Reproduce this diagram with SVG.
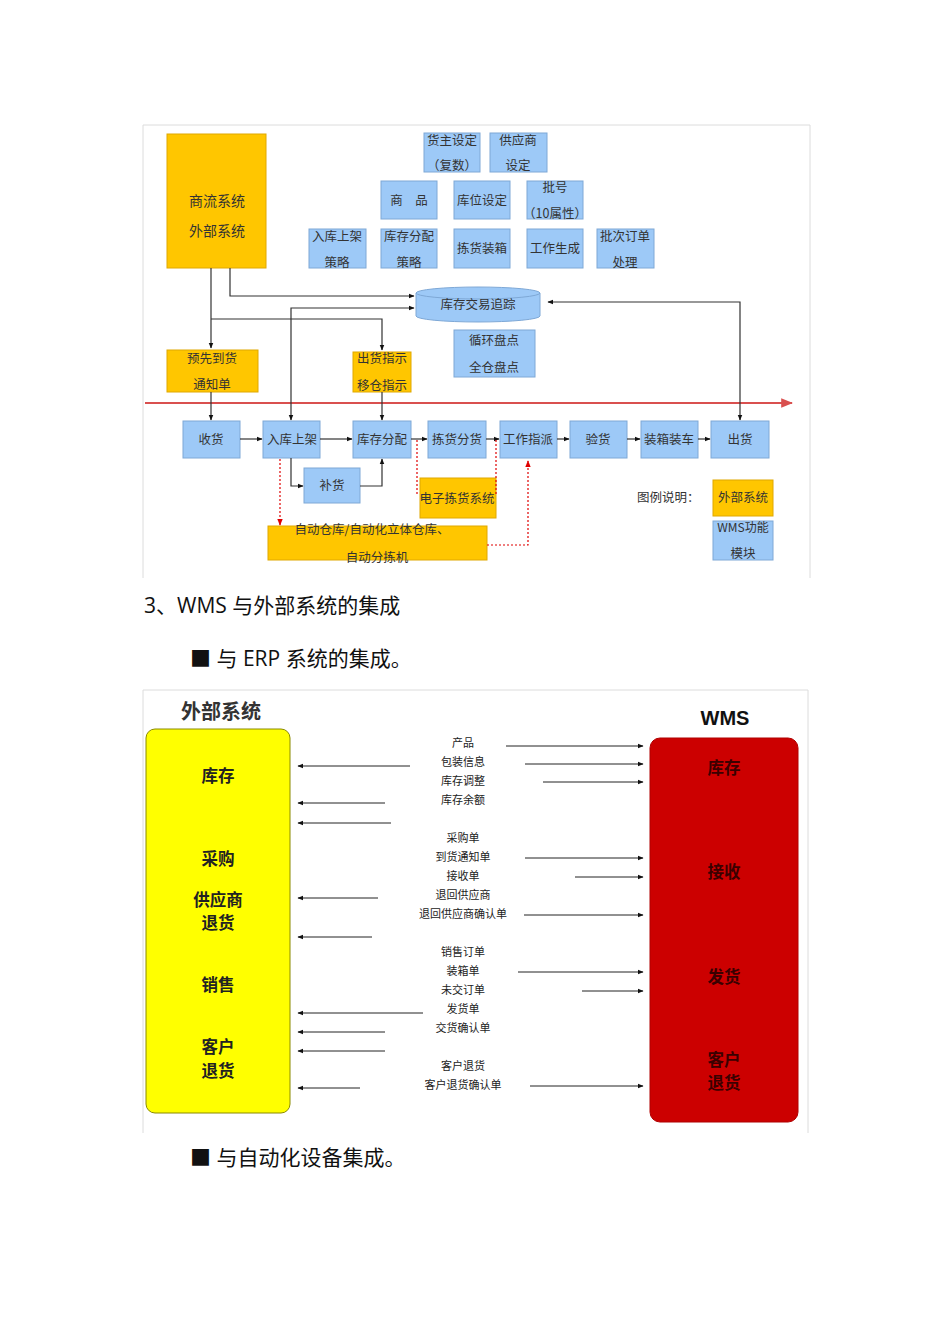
<svg xmlns="http://www.w3.org/2000/svg" width="950" height="1344" viewBox="0 0 950 1344">
<defs>
<marker id="a" viewBox="0 0 10 10" refX="9" refY="5" markerWidth="6" markerHeight="6" markerUnits="userSpaceOnUse" orient="auto-start-reverse"><path d="M0,1 L10,5 L0,9 z" fill="#111"/></marker>
<marker id="r" viewBox="0 0 10 10" refX="9" refY="5" markerWidth="7" markerHeight="7" markerUnits="userSpaceOnUse" orient="auto-start-reverse"><path d="M0,1 L10,5 L0,9 z" fill="#e00000"/></marker>
<marker id="big" viewBox="0 0 10 10" refX="9" refY="5" markerWidth="12" markerHeight="12" markerUnits="userSpaceOnUse" orient="auto"><path d="M0,1 L10,5 L0,9 z" fill="#d9504f"/></marker>
</defs>
<style>
text{font-family:"Noto Sans CJK SC","DejaVu Sans",sans-serif;fill:#333;}
.t{font-size:12.5px;text-anchor:middle;}
.b{fill:#9dc9f7;stroke:#7ea8d6;stroke-width:1;}
.y{fill:#ffc600;stroke:#e0a800;stroke-width:1;}
.ln{fill:none;stroke:#333;stroke-width:1.2;}
.rd{fill:none;stroke:#e00000;stroke-width:1.2;stroke-dasharray:2,2;}
.m{font-size:11px;text-anchor:middle;fill:#222;}
.arr{stroke:#222;stroke-width:1;fill:none;}
.k{font-family:"Noto Sans CJK SC",serif;font-weight:bold;font-size:16.5px;text-anchor:middle;fill:#222;}
.w{font-family:"Noto Sans CJK SC",serif;font-weight:bold;font-size:16.5px;text-anchor:middle;fill:#3a0000;}
.h{font-family:"Open Sans","Noto Sans CJK SC",sans-serif;font-size:21px;fill:#111;}
</style>
<rect width="950" height="1344" fill="#fff"/>

<!-- top frame -->
<path d="M143,578 V125 H810 V578" fill="none" stroke="#dcdcdc" stroke-width="1"/>

<g id="ext-main"><rect x="167" y="134" width="99" height="134" class="y"/><text class="t" x="217" y="206" style="font-size:14px">商流系统</text><text class="t" x="217" y="236" style="font-size:14px">外部系统</text></g>

<g id="n-huozhu"><rect x="424" y="133" width="56" height="39" class="b"/><text class="t" x="452" y="145">货主设定</text><text class="t" x="452" y="170">（复数）</text></g>
<g id="n-gys"><rect x="490" y="133" width="57" height="39" class="b"/><text class="t" x="518" y="145">供应商</text><text class="t" x="518" y="170">设定</text></g>
<g id="n-sp"><rect x="381" y="181" width="56" height="38" class="b"/><text class="t" x="409" y="205">商　品</text></g>
<g id="n-kw"><rect x="454" y="181" width="56" height="38" class="b"/><text class="t" x="482" y="205">库位设定</text></g>
<g id="n-ph"><rect x="527" y="181" width="56" height="38" class="b"/><text class="t" x="555" y="192">批号</text><text class="t" x="555" y="218">（10属性）</text></g>
<g id="n-rksjcl"><rect x="309" y="229" width="57" height="39" class="b"/><text class="t" x="337" y="241">入库上架</text><text class="t" x="337" y="267">策略</text></g>
<g id="n-kcfpcl"><rect x="381" y="229" width="56" height="39" class="b"/><text class="t" x="409" y="241">库存分配</text><text class="t" x="409" y="267">策略</text></g>
<g id="n-jhzx"><rect x="454" y="229" width="56" height="39" class="b"/><text class="t" x="482" y="253">拣货装箱</text></g>
<g id="n-gzsc"><rect x="527" y="229" width="56" height="39" class="b"/><text class="t" x="555" y="253">工作生成</text></g>
<g id="n-pcdd"><rect x="597" y="229" width="57" height="39" class="b"/><text class="t" x="625" y="241">批次订单</text><text class="t" x="625" y="267">处理</text></g>

<g id="n-kcjy"><path d="M416,293 A62,6 0 0 1 540,293 V316 A62,6 0 0 1 416,316 Z" class="b"/><path d="M416,293 A62,6 0 0 0 540,293" fill="none" stroke="#7ea8d6"/><text class="t" x="478" y="309">库存交易追踪</text></g>
<g id="n-pd"><rect x="454" y="330" width="81" height="47" class="b"/><text class="t" x="494" y="345">循环盘点</text><text class="t" x="494" y="372">全仓盘点</text></g>

<g id="n-yxdh"><rect x="167" y="350" width="91" height="42" class="y"/><text class="t" x="212" y="363">预先到货</text><text class="t" x="212" y="389">通知单</text></g>
<g id="n-chzs"><rect x="353" y="352" width="58" height="40" class="y"/><text class="t" x="382" y="363">出货指示</text><text class="t" x="382" y="390">移仓指示</text></g>

<g id="n-sh"><rect x="183" y="421" width="57" height="37" class="b"/><text class="t" x="211" y="444">收货</text></g>
<g id="n-rksj"><rect x="263" y="421" width="57" height="37" class="b"/><text class="t" x="292" y="444">入库上架</text></g>
<g id="n-kcfp"><rect x="353" y="421" width="58" height="37" class="b"/><text class="t" x="382" y="444">库存分配</text></g>
<g id="n-jhfh"><rect x="428" y="421" width="58" height="37" class="b"/><text class="t" x="457" y="444">拣货分货</text></g>
<g id="n-gzzp"><rect x="500" y="421" width="57" height="37" class="b"/><text class="t" x="528" y="444">工作指派</text></g>
<g id="n-yh"><rect x="570" y="421" width="57" height="37" class="b"/><text class="t" x="598" y="444">验货</text></g>
<g id="n-zxzc"><rect x="641" y="421" width="57" height="37" class="b"/><text class="t" x="669" y="444">装箱装车</text></g>
<g id="n-ch"><rect x="711" y="421" width="58" height="37" class="b"/><text class="t" x="740" y="444">出货</text></g>
<g id="n-bh"><rect x="304" y="468" width="56" height="35" class="b"/><text class="t" x="332" y="490">补货</text></g>

<g id="n-dzjh"><rect x="420" y="478" width="76" height="40" class="y"/><text class="t" x="457" y="503">电子拣货系统</text></g>
<g id="n-zdck"><rect x="268" y="526" width="219" height="34" class="y"/><text class="t" x="372" y="534">自动仓库/自动化立体仓库、</text><text class="t" x="377" y="562">自动分拣机</text></g>

<g id="legend"><text x="637" y="502" style="font-size:12.5px">图例说明：</text><rect x="713" y="480" width="60" height="36" class="y"/><text class="t" x="743" y="502">外部系统</text><rect x="713" y="521" width="60" height="39" class="b"/><text class="t" x="743" y="532" style="font-size:12px">WMS功能</text><text class="t" x="743" y="558">模块</text></g>

<g id="connectors-top">
<line x1="145" y1="403" x2="792" y2="403" stroke="#d9504f" stroke-width="2" marker-end="url(#big)"/>
<polyline class="ln" points="230,268 230,296 414,296" marker-end="url(#a)"/>
<polyline class="ln" points="211,268 211,348" marker-end="url(#a)"/>
<polyline class="ln" points="211,319 382,319 382,350" marker-end="url(#a)"/>
<polyline class="ln" points="414,308 291,308 291,420" marker-start="url(#a)" marker-end="url(#a)"/>
<polyline class="ln" points="548,302 740,302 740,420" marker-start="url(#a)" marker-end="url(#a)"/>
<line class="ln" x1="211" y1="392" x2="211" y2="420" marker-end="url(#a)"/>
<line class="ln" x1="382" y1="392" x2="382" y2="420" marker-end="url(#a)"/>
<line class="ln" x1="240" y1="439" x2="262" y2="439" marker-end="url(#a)"/>
<line class="ln" x1="320" y1="439" x2="352" y2="439" marker-end="url(#a)"/>
<line class="ln" x1="411" y1="439" x2="427" y2="439" marker-end="url(#a)"/>
<line class="ln" x1="486" y1="439" x2="499" y2="439" marker-end="url(#a)"/>
<line class="ln" x1="557" y1="439" x2="569" y2="439" marker-end="url(#a)"/>
<line class="ln" x1="627" y1="439" x2="640" y2="439" marker-end="url(#a)"/>
<line class="ln" x1="698" y1="439" x2="710" y2="439" marker-end="url(#a)"/>
<polyline class="ln" points="291,458 291,486 303,486" marker-end="url(#a)"/>
<polyline class="ln" points="360,486 382,486 382,459" marker-end="url(#a)"/>
<line class="rd" x1="280" y1="459" x2="280" y2="525" marker-end="url(#r)"/>
<line class="rd" x1="417" y1="440" x2="417" y2="494"/>
<line class="rd" x1="496" y1="440" x2="496" y2="494"/>
<polyline class="rd" points="487,545 528,545 528,461" marker-end="url(#r)"/>
</g>

<text class="h" x="144" y="613">3、WMS 与外部系统的集成</text>
<text class="h" x="190" y="666">■ 与 ERP 系统的集成。</text>
<text class="h" x="190" y="1165">■ 与自动化设备集成。</text>

<!-- bottom frame -->
<path d="M143,1133 V690 H808 V1133" fill="none" stroke="#dcdcdc" stroke-width="1"/>
<text x="221" y="719" style="font-size:20px;font-weight:bold;text-anchor:middle;fill:#333;font-family:'Noto Sans CJK SC',serif">外部系统</text>
<text x="725" y="725" style="font-size:20px;font-weight:bold;text-anchor:middle;fill:#111;font-family:'Liberation Sans',sans-serif">WMS</text>

<g id="ext-box"><rect x="146" y="729" width="144" height="384" rx="9" fill="#ffff00" stroke="#8a8a00" stroke-width="1"/>
<text class="k" x="218" y="782">库存</text><text class="k" x="218" y="865">采购</text><text class="k" x="218" y="906">供应商</text><text class="k" x="218" y="929">退货</text><text class="k" x="218" y="991">销售</text><text class="k" x="218" y="1053">客户</text><text class="k" x="218" y="1077">退货</text></g>

<g id="wms-box"><rect x="650" y="738" width="148" height="384" rx="10" fill="#cc0000" stroke="#b00000" stroke-width="1"/>
<text class="w" x="724" y="774">库存</text><text class="w" x="724" y="878">接收</text><text class="w" x="724" y="983">发货</text><text class="w" x="724" y="1066">客户</text><text class="w" x="724" y="1089">退货</text></g>

<g id="labels">
<text class="m" x="463" y="747">产品</text>
<text class="m" x="463" y="766">包装信息</text>
<text class="m" x="463" y="785">库存调整</text>
<text class="m" x="463" y="804">库存余额</text>
<text class="m" x="463" y="842">采购单</text>
<text class="m" x="463" y="861">到货通知单</text>
<text class="m" x="463" y="880">接收单</text>
<text class="m" x="463" y="899">退回供应商</text>
<text class="m" x="463" y="918">退回供应商确认单</text>
<text class="m" x="463" y="956">销售订单</text>
<text class="m" x="463" y="975">装箱单</text>
<text class="m" x="463" y="994">未交订单</text>
<text class="m" x="463" y="1013">发货单</text>
<text class="m" x="463" y="1032">交货确认单</text>
<text class="m" x="463" y="1070">客户退货</text>
<text class="m" x="463" y="1089">客户退货确认单</text>
</g>

<g id="connectors-bottom">
<line class="arr" x1="506" y1="746" x2="643" y2="746" marker-end="url(#a)"/>
<line class="arr" x1="525" y1="764" x2="643" y2="764" marker-end="url(#a)"/>
<line class="arr" x1="543" y1="782" x2="643" y2="782" marker-end="url(#a)"/>
<line class="arr" x1="525" y1="858" x2="643" y2="858" marker-end="url(#a)"/>
<line class="arr" x1="575" y1="877" x2="643" y2="877" marker-end="url(#a)"/>
<line class="arr" x1="524" y1="915" x2="643" y2="915" marker-end="url(#a)"/>
<line class="arr" x1="518" y1="972" x2="643" y2="972" marker-end="url(#a)"/>
<line class="arr" x1="582" y1="991" x2="643" y2="991" marker-end="url(#a)"/>
<line class="arr" x1="530" y1="1086" x2="643" y2="1086" marker-end="url(#a)"/>
<line class="arr" x1="410" y1="766" x2="298" y2="766" marker-end="url(#a)"/>
<line class="arr" x1="385" y1="803" x2="298" y2="803" marker-end="url(#a)"/>
<line class="arr" x1="391" y1="823" x2="298" y2="823" marker-end="url(#a)"/>
<line class="arr" x1="378" y1="898" x2="298" y2="898" marker-end="url(#a)"/>
<line class="arr" x1="372" y1="937" x2="298" y2="937" marker-end="url(#a)"/>
<line class="arr" x1="423" y1="1013" x2="298" y2="1013" marker-end="url(#a)"/>
<line class="arr" x1="385" y1="1032" x2="298" y2="1032" marker-end="url(#a)"/>
<line class="arr" x1="385" y1="1051" x2="298" y2="1051" marker-end="url(#a)"/>
<line class="arr" x1="360" y1="1088" x2="298" y2="1088" marker-end="url(#a)"/>
</g>
</svg>
